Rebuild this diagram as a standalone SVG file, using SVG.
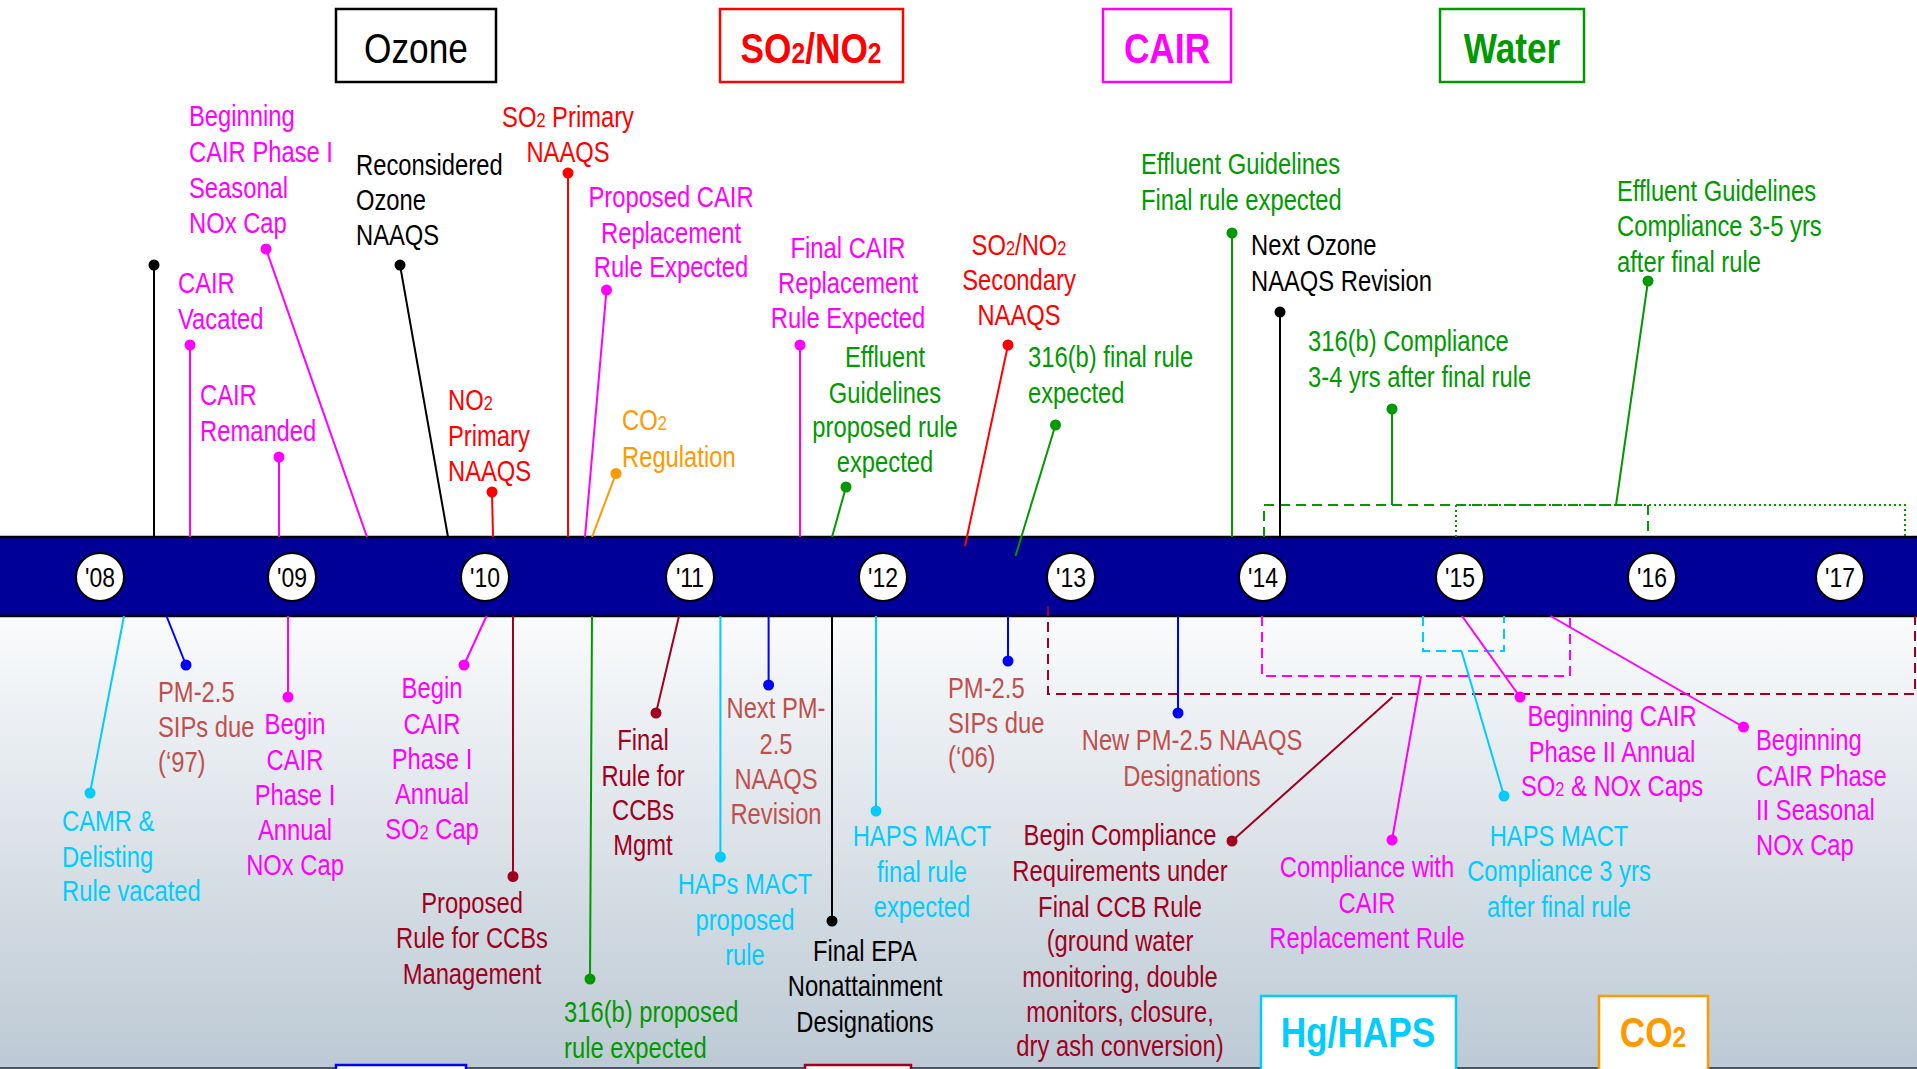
<svg xmlns="http://www.w3.org/2000/svg" width="1917" height="1069" viewBox="0 0 1917 1069">
<defs>
<linearGradient id="bg" x1="0" y1="0" x2="0" y2="1">
<stop offset="0" stop-color="#FAFBFC"/>
<stop offset="1" stop-color="#BCC9D4"/>
</linearGradient>
<style>
text{font-family:"Liberation Sans",Arial,sans-serif;font-size:29px}
.m{fill:#FF00FF}.r{fill:#FF0000}.g{fill:#009900}.k{fill:#000000}.o{fill:#FF9900}.c{fill:#00CCFF}.s{fill:#C0504D}.d{fill:#A00020}
.mid{text-anchor:middle}
.sub{font-size:20px}
.tsub{font-size:30px}
.title{font-size:43px;font-weight:bold;text-anchor:middle}
.yr{font-size:28px;text-anchor:middle;fill:#000}
line{stroke-width:2}
circle{r:5.5px}
.lm{stroke:#FF00FF}.lr{stroke:#FF0000}.lg{stroke:#009900}.lk{stroke:#000}.lo{stroke:#FF9900}.lc{stroke:#00CCFF}.lb{stroke:#0000FF}.ld{stroke:#A00020}
.box{fill:#fff;stroke-width:2.5}
.dash{fill:none;stroke-width:2;stroke-dasharray:10 6}
.dot{fill:none;stroke-width:2;stroke-dasharray:2 3}
</style>
</defs>
<rect x="0" y="0" width="1917" height="1069" fill="#FFFFFF"/>
<rect x="0" y="616" width="1917" height="453" fill="url(#bg)"/>
<line x1="0" y1="1068" x2="1917" y2="1068" stroke="#4A5663" stroke-width="2"/>

<g id="band">
<rect x="-2" y="537" width="1921" height="79" fill="#000099" stroke="#000" stroke-width="2.5"/>
<g fill="#fff" stroke="#000" stroke-width="2">
<ellipse cx="100" cy="577" rx="24" ry="24"/>
<ellipse cx="292" cy="577" rx="24" ry="24"/>
<ellipse cx="485" cy="577" rx="24" ry="24"/>
<ellipse cx="690" cy="577" rx="24" ry="24"/>
<ellipse cx="883" cy="577" rx="24" ry="24"/>
<ellipse cx="1071" cy="577" rx="24" ry="24"/>
<ellipse cx="1263" cy="577" rx="24" ry="24"/>
<ellipse cx="1460" cy="577" rx="24" ry="24"/>
<ellipse cx="1652" cy="577" rx="24" ry="24"/>
<ellipse cx="1840" cy="577" rx="24" ry="24"/>
</g>
<g transform="translate(100 0) scale(0.82 1)"><text class="yr" x="0" y="587">'08</text></g>
<g transform="translate(292 0) scale(0.82 1)"><text class="yr" x="0" y="587">'09</text></g>
<g transform="translate(485 0) scale(0.82 1)"><text class="yr" x="0" y="587">'10</text></g>
<g transform="translate(690 0) scale(0.82 1)"><text class="yr" x="0" y="587">'11</text></g>
<g transform="translate(883 0) scale(0.82 1)"><text class="yr" x="0" y="587">'12</text></g>
<g transform="translate(1071 0) scale(0.82 1)"><text class="yr" x="0" y="587">'13</text></g>
<g transform="translate(1263 0) scale(0.82 1)"><text class="yr" x="0" y="587">'14</text></g>
<g transform="translate(1460 0) scale(0.82 1)"><text class="yr" x="0" y="587">'15</text></g>
<g transform="translate(1652 0) scale(0.82 1)"><text class="yr" x="0" y="587">'16</text></g>
<g transform="translate(1840 0) scale(0.82 1)"><text class="yr" x="0" y="587">'17</text></g>
</g>

<g id="categories">
<g id="cat-ozone"><rect class="box" x="336" y="9" width="160" height="73" stroke="#000"/><g transform="translate(416 0) scale(0.82 1)"><text class="title k" x="0" y="63" font-weight="normal" style="font-weight:normal">Ozone</text></g></g>
<g id="cat-so2no2"><rect class="box" x="720" y="9" width="183" height="73" stroke="#FF0000"/><g transform="translate(811 0) scale(0.82 1)"><text class="title r" x="0" y="63">SO<tspan class="tsub">2</tspan>/NO<tspan class="tsub">2</tspan></text></g></g>
<g id="cat-cair"><rect class="box" x="1103" y="9" width="128" height="73" stroke="#FF00FF"/><g transform="translate(1167 0) scale(0.82 1)"><text class="title m" x="0" y="63">CAIR</text></g></g>
<g id="cat-water"><rect class="box" x="1440" y="9" width="144" height="73" stroke="#009900"/><g transform="translate(1512 0) scale(0.82 1)"><text class="title g" x="0" y="63">Water</text></g></g>
<g id="cat-hg"><rect class="box" x="1261" y="996" width="195" height="100" stroke="#00CCFF"/><g transform="translate(1358 0) scale(0.82 1)"><text class="title c" x="0" y="1047">Hg/HAPS</text></g></g>
<g id="cat-co2"><rect class="box" x="1599" y="996" width="109" height="100" stroke="#FF9900"/><g transform="translate(1653 0) scale(0.82 1)"><text class="title o" x="0" y="1047">CO<tspan class="tsub">2</tspan></text></g></g>
<g id="cat-pm"><rect class="box" x="336" y="1065" width="130" height="40" stroke="#0000FF"/></g>
<g id="cat-ccb"><rect class="box" x="805" y="1065" width="106" height="40" stroke="#A00020"/></g>
</g>

<g id="connectors">
<path class="dash" stroke="#009900" d="M1264 537 V505 H1648 V537"/>
<path class="dot" stroke="#009900" d="M1456 537 V505 H1905 V537"/>
<path class="dash" stroke="#A00020" d="M1048 606 V694 H1915 V616"/>
<path class="dash" stroke="#FF00FF" d="M1262 616 V676 H1570 V616"/>
<path class="dash" stroke="#00CCFF" d="M1423 616 V651 H1504 V616"/>
<line class="lk" x1="154" y1="265" x2="154" y2="537"/>
<line class="lm" x1="190" y1="345" x2="190" y2="537"/>
<line class="lm" x1="279" y1="457" x2="279" y2="537"/>
<line class="lm" x1="266" y1="249" x2="367" y2="537"/>
<line class="lk" x1="400" y1="265" x2="448" y2="537"/>
<line class="lr" x1="492" y1="492" x2="493" y2="537"/>
<line class="lr" x1="568" y1="173" x2="568" y2="537"/>
<line class="lm" x1="606.5" y1="290" x2="585" y2="537"/>
<line class="lo" x1="616" y1="473.5" x2="592" y2="537"/>
<line class="lm" x1="800" y1="345" x2="800" y2="537"/>
<line class="lg" x1="846" y1="487" x2="832" y2="537"/>
<line class="lr" x1="1008" y1="345" x2="965" y2="546"/>
<line class="lg" x1="1055.5" y1="425" x2="1015.5" y2="556"/>
<line class="lg" x1="1232" y1="233" x2="1232" y2="537"/>
<line class="lk" x1="1280" y1="312" x2="1280" y2="537"/>
<line class="lg" x1="1392" y1="409" x2="1392" y2="505"/>
<line class="lg" x1="1648" y1="281" x2="1616" y2="505"/>
<line class="lc" x1="124" y1="616" x2="90" y2="793"/>
<line class="lb" x1="166.5" y1="616" x2="186" y2="665"/>
<line class="lm" x1="288" y1="616" x2="288" y2="697"/>
<line class="lm" x1="486.5" y1="616" x2="464" y2="665"/>
<line class="ld" x1="513" y1="616" x2="513" y2="876.5"/>
<line class="lg" x1="592" y1="616" x2="590" y2="979"/>
<line class="ld" x1="679" y1="616" x2="656" y2="713"/>
<line class="lc" x1="720.4" y1="616" x2="720.4" y2="857"/>
<line class="lb" x1="768.6" y1="616" x2="768.6" y2="685"/>
<line class="lk" x1="832" y1="616" x2="832" y2="921"/>
<line class="lc" x1="876" y1="616" x2="876" y2="811"/>
<line class="lb" x1="1008" y1="616" x2="1008" y2="661"/>
<line class="lb" x1="1178" y1="616" x2="1178" y2="713"/>
<line class="ld" x1="1232" y1="841" x2="1392.5" y2="697"/>
<line class="lm" x1="1421" y1="676" x2="1392" y2="840"/>
<line class="lc" x1="1461.5" y1="651" x2="1504" y2="796"/>
<line class="lm" x1="1462" y1="616" x2="1520" y2="697"/>
<line class="lm" x1="1550.5" y1="616" x2="1743.5" y2="727"/>
</g>

<g id="dots">
<circle cx="154" cy="265" r="5.5" fill="#000"/>
<circle cx="190" cy="345" r="5.5" fill="#FF00FF"/>
<circle cx="279" cy="457" r="5.5" fill="#FF00FF"/>
<circle cx="266" cy="249" r="5.5" fill="#FF00FF"/>
<circle cx="400" cy="265" r="5.5" fill="#000"/>
<circle cx="492" cy="492" r="5.5" fill="#FF0000"/>
<circle cx="568" cy="173" r="5.5" fill="#FF0000"/>
<circle cx="606.5" cy="290" r="5.5" fill="#FF00FF"/>
<circle cx="616" cy="473.5" r="5.5" fill="#FF9900"/>
<circle cx="800" cy="345" r="5.5" fill="#FF00FF"/>
<circle cx="846" cy="487" r="5.5" fill="#009900"/>
<circle cx="1008" cy="345" r="5.5" fill="#FF0000"/>
<circle cx="1055.5" cy="425" r="5.5" fill="#009900"/>
<circle cx="1232" cy="233" r="5.5" fill="#009900"/>
<circle cx="1280" cy="312" r="5.5" fill="#000"/>
<circle cx="1392" cy="409" r="5.5" fill="#009900"/>
<circle cx="1648" cy="281" r="5.5" fill="#009900"/>
<circle cx="90" cy="793" r="5.5" fill="#00CCFF"/>
<circle cx="186" cy="665" r="5.5" fill="#0000FF"/>
<circle cx="288" cy="697" r="5.5" fill="#FF00FF"/>
<circle cx="464" cy="665" r="5.5" fill="#FF00FF"/>
<circle cx="513" cy="876.5" r="5.5" fill="#A00020"/>
<circle cx="590" cy="979" r="5.5" fill="#009900"/>
<circle cx="656" cy="713" r="5.5" fill="#A00020"/>
<circle cx="720.4" cy="857" r="5.5" fill="#00CCFF"/>
<circle cx="768.6" cy="685" r="5.5" fill="#0000FF"/>
<circle cx="832" cy="921" r="5.5" fill="#000"/>
<circle cx="876" cy="811" r="5.5" fill="#00CCFF"/>
<circle cx="1008" cy="661" r="5.5" fill="#0000FF"/>
<circle cx="1178" cy="713" r="5.5" fill="#0000FF"/>
<circle cx="1232" cy="841" r="5.5" fill="#A00020"/>
<circle cx="1392" cy="840" r="5.5" fill="#FF00FF"/>
<circle cx="1504" cy="796" r="5.5" fill="#00CCFF"/>
<circle cx="1520" cy="697" r="5.5" fill="#FF00FF"/>
<circle cx="1743.5" cy="727" r="5.5" fill="#FF00FF"/>
</g>

<g id="labels-above">
<g id="cair-vacated" transform="translate(178 0) scale(0.82 1)"><text class="m" x="0" y="293">CAIR</text><text class="m" x="0" y="329">Vacated</text></g>
<g id="cair-remanded" transform="translate(200 0) scale(0.82 1)"><text class="m" x="0" y="405">CAIR</text><text class="m" x="0" y="441">Remanded</text></g>
<g id="cair-p1-seasonal" transform="translate(189 0) scale(0.82 1)"><text class="m" x="0" y="126">Beginning</text><text class="m" x="0" y="162">CAIR Phase I</text><text class="m" x="0" y="198">Seasonal</text><text class="m" x="0" y="233">NOx Cap</text></g>
<g id="reconsidered-ozone" transform="translate(356 0) scale(0.82 1)"><text class="k" x="0" y="175">Reconsidered</text><text class="k" x="0" y="210">Ozone</text><text class="k" x="0" y="245">NAAQS</text></g>
<g id="no2-primary" transform="translate(448 0) scale(0.82 1)"><text class="r" x="0" y="410">NO<tspan class="sub">2</tspan></text><text class="r" x="0" y="446">Primary</text><text class="r" x="0" y="481">NAAQS</text></g>
<g id="so2-primary" transform="translate(568 0) scale(0.82 1)"><text class="r mid" x="0" y="127">SO<tspan class="sub">2</tspan> Primary</text><text class="r mid" x="0" y="162">NAAQS</text></g>
<g id="proposed-cair" transform="translate(671 0) scale(0.82 1)"><text class="m mid" x="0" y="207">Proposed CAIR</text><text class="m mid" x="0" y="243">Replacement</text><text class="m mid" x="0" y="277">Rule Expected</text></g>
<g id="co2-reg" transform="translate(622 0) scale(0.82 1)"><text class="o" x="0" y="430">CO<tspan class="sub">2</tspan></text><text class="o" x="0" y="467">Regulation</text></g>
<g id="final-cair" transform="translate(848 0) scale(0.82 1)"><text class="m mid" x="0" y="258">Final CAIR</text><text class="m mid" x="0" y="293">Replacement</text><text class="m mid" x="0" y="328">Rule Expected</text></g>
<g id="effluent-proposed" transform="translate(885 0) scale(0.82 1)"><text class="g mid" x="0" y="367">Effluent</text><text class="g mid" x="0" y="403">Guidelines</text><text class="g mid" x="0" y="437">proposed rule</text><text class="g mid" x="0" y="472">expected</text></g>
<g id="so2no2-secondary" transform="translate(1019 0) scale(0.82 1)"><text class="r mid" x="0" y="255">SO<tspan class="sub">2</tspan>/NO<tspan class="sub">2</tspan></text><text class="r mid" x="0" y="290">Secondary</text><text class="r mid" x="0" y="325">NAAQS</text></g>
<g id="b316-final" transform="translate(1028 0) scale(0.82 1)"><text class="g" x="0" y="367">316(b) final rule</text><text class="g" x="0" y="403">expected</text></g>
<g id="effluent-final" transform="translate(1141 0) scale(0.82 1)"><text class="g" x="0" y="174">Effluent Guidelines</text><text class="g" x="0" y="210">Final rule expected</text></g>
<g id="next-ozone" transform="translate(1251 0) scale(0.82 1)"><text class="k" x="0" y="255">Next Ozone</text><text class="k" x="0" y="291">NAAQS Revision</text></g>
<g id="b316-compliance" transform="translate(1308 0) scale(0.82 1)"><text class="g" x="0" y="351">316(b) Compliance</text><text class="g" x="0" y="387">3-4 yrs after final rule</text></g>
<g id="effluent-compliance" transform="translate(1617 0) scale(0.82 1)"><text class="g" x="0" y="201">Effluent Guidelines</text><text class="g" x="0" y="236">Compliance 3-5 yrs</text><text class="g" x="0" y="272">after final rule</text></g>
</g>

<g id="labels-below">
<g id="camr" transform="translate(62 0) scale(0.82 1)"><text class="c" x="0" y="831">CAMR &amp;</text><text class="c" x="0" y="867">Delisting</text><text class="c" x="0" y="901">Rule vacated</text></g>
<g id="pm-sips-97" transform="translate(158 0) scale(0.82 1)"><text class="s" x="0" y="702">PM-2.5</text><text class="s" x="0" y="737">SIPs due</text><text class="s" x="0" y="772">(‘97)</text></g>
<g id="cair-p1-nox" transform="translate(295 0) scale(0.82 1)"><text class="m mid" x="0" y="734">Begin</text><text class="m mid" x="0" y="770">CAIR</text><text class="m mid" x="0" y="805">Phase I</text><text class="m mid" x="0" y="840">Annual</text><text class="m mid" x="0" y="875">NOx Cap</text></g>
<g id="cair-p1-so2" transform="translate(432 0) scale(0.82 1)"><text class="m mid" x="0" y="698">Begin</text><text class="m mid" x="0" y="734">CAIR</text><text class="m mid" x="0" y="769">Phase I</text><text class="m mid" x="0" y="804">Annual</text><text class="m mid" x="0" y="839">SO<tspan class="sub">2</tspan> Cap</text></g>
<g id="ccb-proposed" transform="translate(472 0) scale(0.82 1)"><text class="d mid" x="0" y="913">Proposed</text><text class="d mid" x="0" y="948">Rule for CCBs</text><text class="d mid" x="0" y="984">Management</text></g>
<g id="b316-proposed" transform="translate(564 0) scale(0.82 1)"><text class="g" x="0" y="1022">316(b) proposed</text><text class="g" x="0" y="1058">rule expected</text></g>
<g id="ccb-final" transform="translate(643 0) scale(0.82 1)"><text class="d mid" x="0" y="750">Final</text><text class="d mid" x="0" y="786">Rule for</text><text class="d mid" x="0" y="820">CCBs</text><text class="d mid" x="0" y="855">Mgmt</text></g>
<g id="haps-proposed" transform="translate(745 0) scale(0.82 1)"><text class="c mid" x="0" y="894">HAPs MACT</text><text class="c mid" x="0" y="930">proposed</text><text class="c mid" x="0" y="965">rule</text></g>
<g id="next-pm" transform="translate(776 0) scale(0.82 1)"><text class="s mid" x="0" y="718">Next PM-</text><text class="s mid" x="0" y="754">2.5</text><text class="s mid" x="0" y="789">NAAQS</text><text class="s mid" x="0" y="824">Revision</text></g>
<g id="final-epa" transform="translate(865 0) scale(0.82 1)"><text class="k mid" x="0" y="961">Final EPA</text><text class="k mid" x="0" y="996">Nonattainment</text><text class="k mid" x="0" y="1032">Designations</text></g>
<g id="haps-final" transform="translate(922 0) scale(0.82 1)"><text class="c mid" x="0" y="846">HAPS MACT</text><text class="c mid" x="0" y="882">final rule</text><text class="c mid" x="0" y="917">expected</text></g>
<g id="pm-sips-06" transform="translate(948 0) scale(0.82 1)"><text class="s" x="0" y="698">PM-2.5</text><text class="s" x="0" y="733">SIPs due</text><text class="s" x="0" y="767">(‘06)</text></g>
<g id="new-pm" transform="translate(1192 0) scale(0.82 1)"><text class="s mid" x="0" y="750">New PM-2.5 NAAQS</text><text class="s mid" x="0" y="786">Designations</text></g>
<g id="ccb-compliance" transform="translate(1120 0) scale(0.82 1)"><text class="d mid" x="0" y="845">Begin Compliance</text><text class="d mid" x="0" y="881">Requirements under</text><text class="d mid" x="0" y="917">Final CCB Rule</text><text class="d mid" x="0" y="951">(ground water</text><text class="d mid" x="0" y="987">monitoring, double</text><text class="d mid" x="0" y="1022">monitors, closure,</text><text class="d mid" x="0" y="1056">dry ash conversion)</text></g>
<g id="cair-compliance" transform="translate(1367 0) scale(0.82 1)"><text class="m mid" x="0" y="877">Compliance with</text><text class="m mid" x="0" y="913">CAIR</text><text class="m mid" x="0" y="948">Replacement Rule</text></g>
<g id="haps-compliance" transform="translate(1559 0) scale(0.82 1)"><text class="c mid" x="0" y="846">HAPS MACT</text><text class="c mid" x="0" y="881">Compliance 3 yrs</text><text class="c mid" x="0" y="917">after final rule</text></g>
<g id="cair-p2-annual" transform="translate(1612 0) scale(0.82 1)"><text class="m mid" x="0" y="726">Beginning CAIR</text><text class="m mid" x="0" y="762">Phase II Annual</text><text class="m mid" x="0" y="796">SO<tspan class="sub">2</tspan> &amp; NOx Caps</text></g>
<g id="cair-p2-seasonal" transform="translate(1756 0) scale(0.82 1)"><text class="m" x="0" y="750">Beginning</text><text class="m" x="0" y="786">CAIR Phase</text><text class="m" x="0" y="820">II Seasonal</text><text class="m" x="0" y="855">NOx Cap</text></g>
</g>
</svg>
